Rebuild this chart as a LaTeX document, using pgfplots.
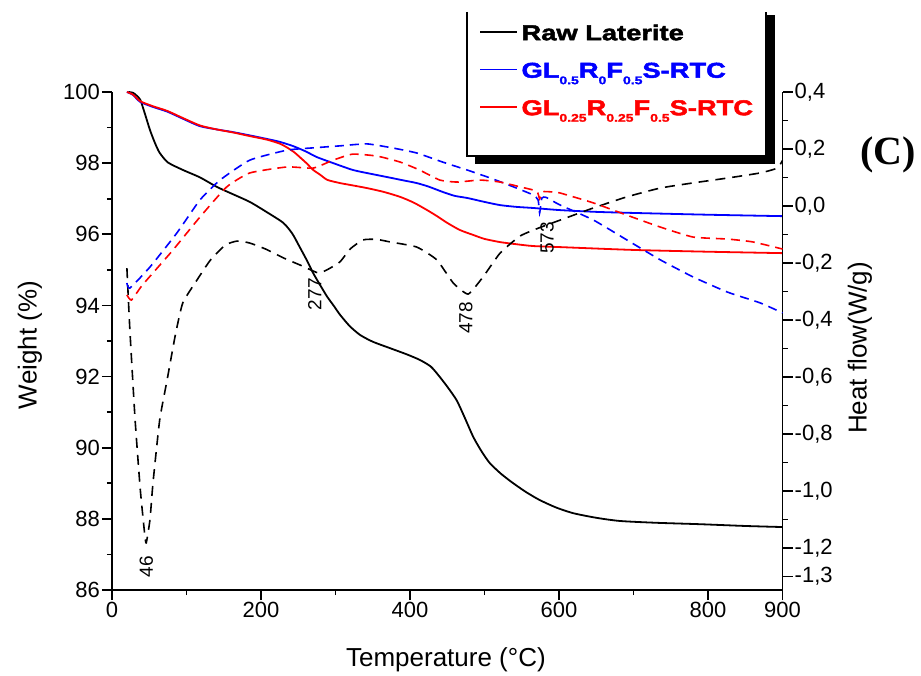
\documentclass[border=0pt]{standalone}
\usepackage{fontspec}
\setmainfont{Liberation Sans}
\newfontfamily\legfont{Liberation Sans}[FakeStretch=1.27, FakeBold=2.2]
\newfontfamily\capfont{Liberation Serif}
\usepackage{pgfplots}
\pgfplotsset{compat=1.18}
\newcommand\sub[1]{\raisebox{-0.3em}{\fontsize{11}{11}\selectfont #1}}
\newcommand\lstrut{\rule[-4pt]{0pt}{22pt}}

% TG curves (weight, %)
\pgfplotstableread{
T W
22 100.0
28 99.98
33 99.9
38 99.78
44 99.4
51 98.93
58 98.55
64 98.29
75 98.02
95 97.81
118 97.6
141 97.33
163 97.12
185 96.91
208 96.62
230 96.32
242 96.02
252 95.64
262 95.25
270 94.91
280 94.55
289 94.24
298 93.98
306 93.74
319 93.42
333 93.17
350 92.98
373 92.80
395 92.63
413 92.47
428 92.28
440 91.99
452 91.66
463 91.32
474 90.82
485 90.30
496 89.90
507 89.57
522 89.27
538 89.01
556 88.75
574 88.53
596 88.32
619 88.16
650 88.03
682 87.94
730 87.89
789 87.85
850 87.80
900 87.77
}\rawtg

\pgfplotstableread{
T W
20 100.0
28 99.92
38 99.72
55 99.58
74 99.45
95 99.25
118 99.04
140 98.95
163 98.87
185 98.78
208 98.68
225 98.60
243 98.48
260 98.33
275 98.17
297 98.00
323 97.81
345 97.71
369 97.61
390 97.52
409 97.44
425 97.34
444 97.19
460 97.08
477 97.02
500 96.91
521 96.82
543 96.77
565 96.74
601 96.68
650 96.63
700 96.60
800 96.55
900 96.51
}\bluetg

\pgfplotstableread{
T W
20 100.0
28 99.93
38 99.74
55 99.60
74 99.47
95 99.27
118 99.06
140 98.95
163 98.86
185 98.76
208 98.66
225 98.55
235 98.44
245 98.30
252 98.17
261 98.00
270 97.81
279 97.68
289 97.53
306 97.44
319 97.39
342 97.30
365 97.19
387 97.05
405 96.89
423 96.68
437 96.50
450 96.32
467 96.12
485 95.98
500 95.87
521 95.78
543 95.72
565 95.67
601 95.64
700 95.56
800 95.51
900 95.47
}\redtg

% DTA curves (heat flow, W/g)
\pgfplotstableread{
T H
20 -0.218
24 -0.435
31 -0.75
38 -0.996
44 -1.154
46 -1.182
51 -1.10
55 -0.972
64 -0.751
74 -0.61
85 -0.453
95 -0.34
114 -0.26
132 -0.19
152 -0.137
168 -0.123
185 -0.130
207 -0.152
230 -0.182
255 -0.21
277 -0.235
290 -0.222
306 -0.196
320 -0.15
337 -0.119
355 -0.117
373 -0.126
409 -0.144
436 -0.189
458 -0.270
478 -0.309
498 -0.249
521 -0.165
548 -0.105
575 -0.075
601 -0.050
646 -0.007
691 0.032
736 0.063
780 0.081
826 0.098
870 0.116
893 0.133
900 0.160
}\rawdta

\pgfplotstableread{
T H
20 -0.270
24 -0.288
51 -0.214
87 -0.095
118 0.021
145 0.091
185 0.161
235 0.196
270 0.204
306 0.211
342 0.218
376 0.204
409 0.186
444 0.154
477 0.126
508 0.098
539 0.067
565 0.039
572 0.021
574 -0.025
577 0.028
583 0.030
601 0.004
646 -0.049
691 -0.119
736 -0.189
780 -0.249
826 -0.302
870 -0.340
900 -0.375
}\bluedta

\pgfplotstableread{
T H
20 -0.312
26 -0.330
40 -0.280
60 -0.220
82 -0.154
118 -0.039
154 0.067
185 0.116
235 0.137
270 0.133
297 0.161
323 0.182
356 0.175
387 0.154
413 0.126
440 0.091
463 0.084
494 0.091
521 0.084
548 0.067
570 0.052
574 0.025
578 0.050
592 0.049
601 0.046
646 0.011
691 -0.032
736 -0.074
780 -0.109
826 -0.116
860 -0.126
900 -0.151
}\reddta

\begin{document}
\begin{tikzpicture}[font=\fontsize{22}{26}\selectfont]
\path[use as bounding box] (-112pt,-85pt) rectangle (809pt,590pt);

\pgfplotsset{
  frame/.style={
    at={(0pt,0pt)}, anchor=south west,
    scale only axis, width=670.5pt, height=498pt,
    xmin=0, xmax=900,
    tick align=outside,
    major tick length=10pt, minor tick length=5pt,
    every tick/.style={black, line width=1.6pt},
    every minor tick/.style={black, line width=1.6pt},
    axis line style={line width=1.8pt},
    tick label style={font=\fontsize{22}{22}\selectfont},
    /pgf/number format/assume math mode=true,
  }
}

\begin{axis}[frame,
  ymin=86, ymax=100,
  axis x line*=bottom, axis y line*=left,
  xtick={0,200,400,600,800,900},
  minor xtick={100,300,500,700},
  ytick={86,88,...,100},
  minor ytick={87,89,...,99},
  xticklabel style={inner sep=2pt},
  yticklabel style={inner sep=2pt},
  xlabel={Temperature (°C)},
  ylabel={Weight (\%)},
  every axis x label/.style={at={(axis description cs:0.498,-0.1406)}, anchor=center, font=\fontsize{26}{26}\selectfont},
  every axis y label/.style={at={(axis description cs:-0.1223,0.492)}, rotate=90, anchor=center, font=\fontsize{26}{26}\selectfont},
  legend image code/.code={\draw[#1, line width=1.8pt] (0pt,0pt) -- (37pt,0pt);},
  legend style={draw=none, fill=none, inner sep=0pt,
    at={(rel axis cs:0.5474,1.1405)}, anchor=north west,
    row sep=18pt,
    nodes={inner xsep=3.5pt, inner ysep=0pt},
    font=\legfont\bfseries\fontsize{21.5}{21.5}\selectfont},
  legend cell align=left,
]
\addplot[black, line width=1.8pt, smooth, tension=0.4] table[x=T, y=W] {\rawtg};
\addlegendentry{\lstrut Raw Laterite}
\addplot[blue, line width=1.8pt, smooth, tension=0.4] table[x=T, y=W] {\bluetg};
\addlegendentry{\lstrut\textcolor{blue}{GL\sub{0.5}R\sub{0}F\sub{0.5}S-RTC}}
\addplot[red, line width=1.8pt, smooth, tension=0.4] table[x=T, y=W] {\redtg};
\addlegendentry{\lstrut\textcolor{red}{GL\sub{0.25}R\sub{0.25}F\sub{0.5}S-RTC}}
\end{axis}

\begin{axis}[frame,
  ymin=-1.3474, ymax=0.4,
  axis y line*=right, axis x line=none,
  ytick={-1.3,-1.2,-1,-0.8,-0.6,-0.4,-0.2,0,0.2,0.4},
  minor ytick={-1.1,-0.9,-0.7,-0.5,-0.3,-0.1,0.1,0.3},
  yticklabel style={inner sep=2pt, /pgf/number format/.cd, use comma, fixed, fixed zerofill, precision=1},
  ylabel={Heat flow(W/g)},
  every axis y label/.style={at={(axis description cs:1.1156,0.486)}, rotate=90, anchor=center, font=\fontsize{26}{26}\selectfont},
  clip=false,
]
\addplot[black, line width=1.6pt, dash pattern=on 10pt off 7pt, smooth, tension=0.3] table[x=T, y=H] {\rawdta};
\addplot[blue, line width=1.6pt, dash pattern=on 9pt off 6pt, smooth, tension=0.3] table[x=T, y=H] {\bluedta};
\addplot[red, line width=1.6pt, dash pattern=on 9pt off 6pt, smooth, tension=0.3] table[x=T, y=H] {\reddta};
\begin{scope}[every node/.style={rotate=90, anchor=east, inner sep=0pt, font=\fontsize{19}{19}\selectfont}]
\node at (axis cs:46,-1.228) {46};
\node at (axis cs:272,-0.253) {277};
\node at (axis cs:475,-0.337) {478};
\node at (axis cs:584,-0.056) {573};
\end{scope}
\end{axis}

% legend frame with its shadow
\draw[line width=1.2pt] (355pt,578pt) -- (355pt,434pt) -- (654pt,434pt) -- (654pt,578pt);
\fill[black] (654pt,426pt) rectangle (663pt,575pt);
\fill[black] (363pt,426pt) rectangle (663pt,434pt);

\node[font=\capfont\bfseries\fontsize{40}{40}\selectfont] at (776pt,435pt) {(C)};
\end{tikzpicture}
\end{document}
